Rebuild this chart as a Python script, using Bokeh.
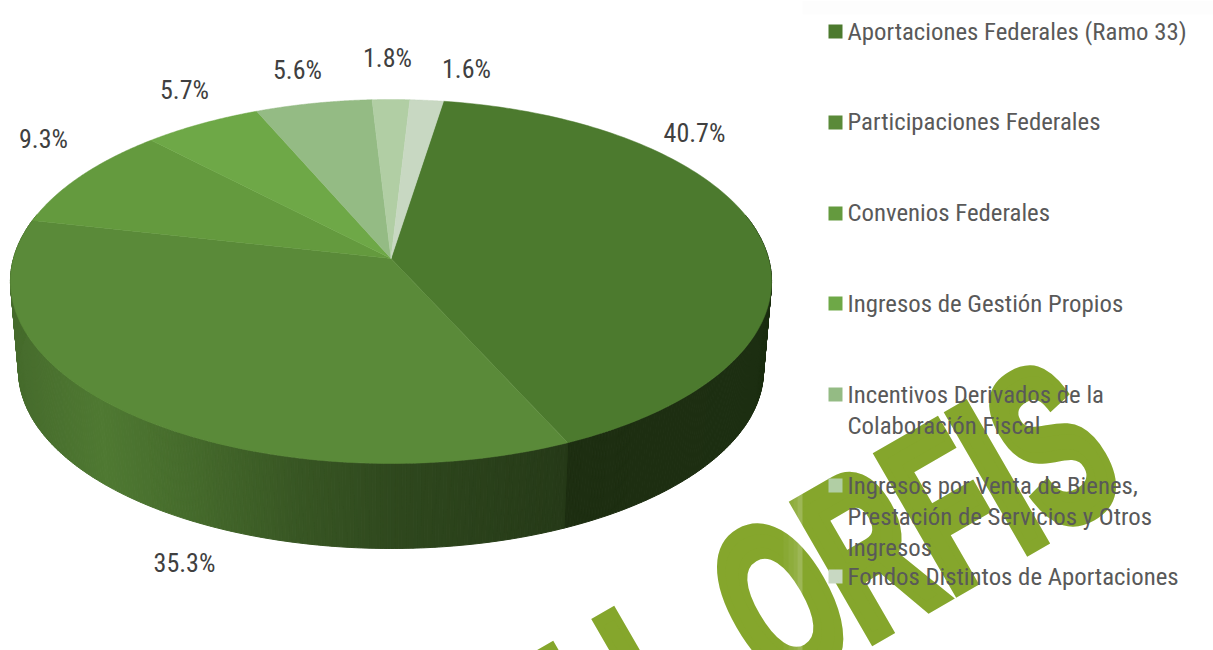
import numpy as np
from bokeh.plotting import figure
from bokeh.models import Range1d, Div, ColumnDataSource
from bokeh.layouts import column
from bokeh.core.properties import value
from bokeh.embed import file_html
from bokeh.resources import INLINE

categories = [
    "Aportaciones Federales (Ramo 33)",
    "Participaciones Federales",
    "Convenios Federales",
    "Ingresos de Gestión Propios",
    "Incentivos Derivados de la\nColaboración Fiscal",
    "Ingresos por Venta de Bienes,\nPrestación de Servicios y Otros\nIngresos",
    "Fondos Distintos de Aportaciones",
]
values = [40.7, 35.3, 9.3, 5.7, 5.6, 1.8, 1.6]
value_labels = ["40.7%", "35.3%", "9.3%", "5.7%", "5.6%", "1.8%", "1.6%"]
colors = ["#4c7a2e", "#5a8a39", "#649a3e", "#6ea847", "#94bb84", "#b1cea4", "#c8d8c2"]

label_x = [694, 184, 43, 184, 297, 387, 466]
label_y = [132, 562, 138, 89, 69, 57, 68]
legend_y = [31, 122, 213, 303, 394, 485, 576]
legend_line_y = [[31], [121], [212], [303], [394, 425], [485, 516, 547], [576]]

START = 9.0
C = 0.1264


def project_top(t):
    u, v = np.sin(t), np.cos(t)
    d = 1 + C * v
    return 390.5 + 377.5 * u / d, 281 - (182 * v + 23) / d


def project_bottom(t):
    u, v = np.sin(t), np.cos(t)
    d = 1 + C * v
    return 390.5 + 369.5 * u / d, 370 - (178 * v + 22.5) / d


def shade(x):
    return np.interp(x, [10, 100, 200, 300, 400, 500, 566, 568, 772],
                     [0.78, 0.88, 0.76, 0.62, 0.52, 0.46, 0.42, 0.385, 0.38])


def mix(col, f):
    r, g, b = int(col[1:3], 16), int(col[3:5], 16), int(col[5:7], 16)
    return "#%02x%02x%02x" % (int(r * f), int(g * f), int(b * f))


p = figure(width=1213, height=650, x_range=Range1d(0, 1213), y_range=Range1d(650, 0),
           output_backend="svg", toolbar_location=None, x_axis_type=None, y_axis_type=None,
           min_border=0, outline_line_color=None, background_fill_color=None,
           border_fill_color=None)
p.grid.visible = False

p.quad(left=[802], right=[1213], top=[0], bottom=[14], fill_color="#fdfdfd", line_color=None)
for l, r, a in [(783, 788, .04), (788, 793, .08), (793, 797, .12), (797, 802, .2)]:
    p.quad(left=[l], right=[r], top=[0], bottom=[650], fill_color="white", fill_alpha=a, line_color=None)

edges = START + np.concatenate([[0], np.cumsum(values)]) * 3.6
side_xs, side_ys, side_c = [], [], []
for i in range(len(values)):
    a = np.radians(np.arange(edges[i], edges[i + 1] + 0.01, 0.5))
    if len(a) < 2 or a[-1] < np.radians(edges[i + 1]):
        a = np.append(a, np.radians(edges[i + 1]))
    for t0, t1 in zip(a[:-1], a[1:]):
        if np.cos(t0) > 0.25 and np.cos(t1) > 0.25:
            continue
        x0, y0 = project_top(t0)
        x1, y1 = project_top(t1)
        x2, y2 = project_bottom(t1)
        x3, y3 = project_bottom(t0)
        side_xs.append([x0, x1, x2, x3])
        side_ys.append([y0, y1, y2, y3])
        side_c.append(mix(colors[i], shade((x0 + x1) / 2)))
p.patches("xs", "ys", source=ColumnDataSource(dict(xs=side_xs, ys=side_ys, c=side_c)),
          fill_color="c", line_color="c", line_width=1)

for i in range(len(values)):
    a = np.radians(np.linspace(edges[i], edges[i + 1], 120))
    x, y = project_top(a)
    p.patch(np.r_[390.5, x], np.r_[258.0, y], fill_color=colors[i], line_color=colors[i], line_width=0.5)

FONT = value("Roboto Condensed")
p.text(label_x, label_y, text=value_labels, text_font=FONT, text_font_size={"value": "26px"},
       text_color="#404040", text_align="center", text_baseline="middle")

p.quad(left=[828] * 7, right=[842] * 7,
       top=[y - 7 for y in legend_y], bottom=[y + 7 for y in legend_y],
       fill_color=colors, line_color=None)
for name, ys in zip(categories, legend_line_y):
    for line, y in zip(name.split("\n"), ys):
        p.text([847], [y], text=[line], text_font=FONT, text_font_size={"value": "24.8px"},
               text_color="#595959", text_align="left", text_baseline="middle")

W = "#85a62c"
style = f"font-family:Liberation Sans;font-weight:bold;font-size:225px;fill:{W};stroke:{W};stroke-width:12px"
svg = (
    '<svg xmlns="http://www.w3.org/2000/svg" width="1213" height="650" viewBox="0 0 1213 650" '
    'style="position:absolute;left:0;top:0;overflow:hidden">'
    f'<text style="{style}" transform="translate(774,696) rotate(-30) scale(0.597,1)">ORFIS</text>'
    f'<text style="{style}" transform="translate(667,761) rotate(-30) scale(0.597,1)">L</text>'
    f'<text style="{style}" transform="translate(606,796) rotate(-30) scale(0.597,1)">L</text>'
    '</svg>'
)
wm = Div(text=svg, width=1213, height=0, margin=0, styles={"overflow": "visible"})

page = column(wm, p, spacing=0, margin=0)
open("out.html", "w").write(file_html(page, INLINE))
